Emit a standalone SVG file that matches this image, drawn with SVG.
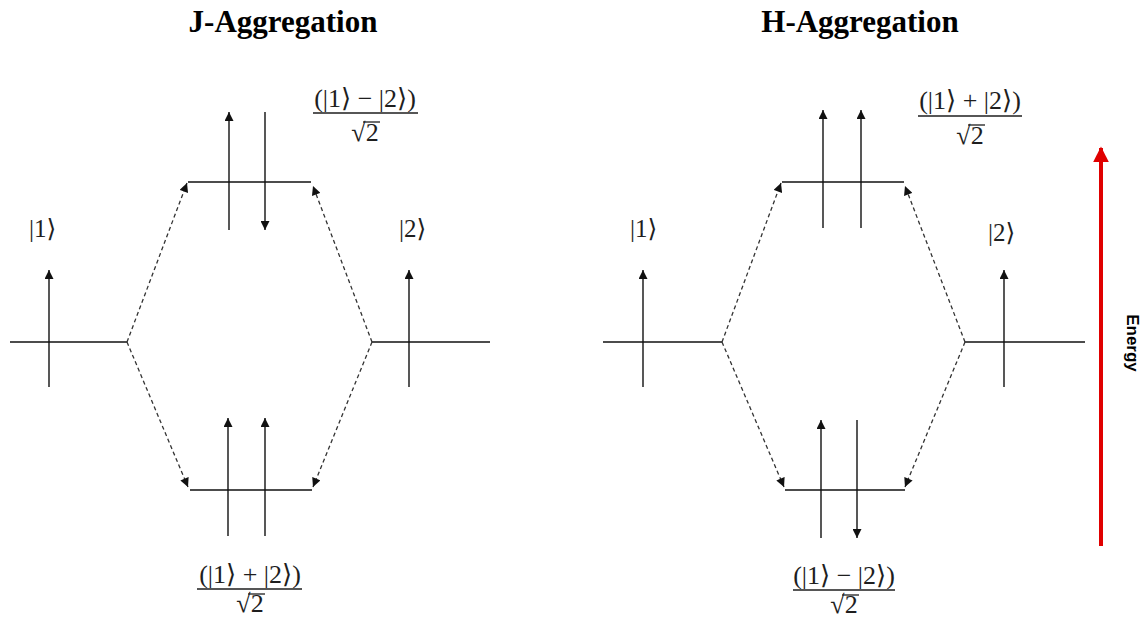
<svg xmlns="http://www.w3.org/2000/svg" width="1145" height="620" viewBox="0 0 1145 620">
<style>
.title{font-family:"Liberation Serif","Times New Roman",serif;font-weight:bold;font-size:31px;fill:#000;text-anchor:middle}
.ket{font-family:"Liberation Serif","DejaVu Serif",serif;font-size:25px;fill:#1e1e1e}
.frac{font-family:"Liberation Serif","DejaVu Serif",serif;font-size:26px;fill:#1e1e1e;text-anchor:middle}
.lvl{stroke:#111;stroke-width:1.4;fill:none}
.spin{stroke:#111;stroke-width:1.4;fill:none;marker-end:url(#ah)}
.dash{stroke:#333;stroke-width:1.3;stroke-dasharray:4 3;fill:none;marker-end:url(#ahd)}
.bar{stroke:#1e1e1e;stroke-width:1.3}
.energy{font-family:"Liberation Sans",Arial,sans-serif;font-weight:bold;font-size:17px;fill:#000;text-anchor:middle}
</style>
<defs>
<marker id="ah" viewBox="0 0 10 10" refX="10" refY="5" markerWidth="11" markerHeight="9" orient="auto" markerUnits="userSpaceOnUse"><path d="M0,0 L10,5 L0,10 z" fill="#111"/></marker>
<marker id="ahd" viewBox="0 0 10 10" refX="10" refY="5" markerWidth="10" markerHeight="9" orient="auto" markerUnits="userSpaceOnUse"><path d="M0,0 L10,5 L0,10 z" fill="#111"/></marker>
<marker id="ahr" viewBox="0 0 10 10" refX="9" refY="5" markerWidth="16" markerHeight="16" orient="auto" markerUnits="userSpaceOnUse"><path d="M0,0 L10,5 L0,10 z" fill="#e00000"/></marker>
</defs>
<rect width="1145" height="620" fill="#fff"/>

<text class="title" x="283" y="32">J-Aggregation</text>
<text class="title" x="860" y="32">H-Aggregation</text>

<!-- J-Aggregation -->
<g id="j-atom1">
<line class="lvl" x1="10" y1="342" x2="127" y2="342"/>
<line class="spin" x1="49" y1="387" x2="49" y2="270"/>
<text class="ket" x="29" y="237">|1⟩</text>
</g>
<g id="j-atom2">
<line class="lvl" x1="372" y1="342" x2="490" y2="342"/>
<line class="spin" x1="409" y1="387" x2="409" y2="270"/>
<text class="ket" x="399" y="237">|2⟩</text>
</g>
<g id="j-upper">
<line class="lvl" x1="188" y1="182" x2="311" y2="182"/>
<line class="spin" x1="229" y1="230" x2="229" y2="112"/>
<line class="spin" x1="265" y1="112" x2="265" y2="230"/>
<text class="frac" x="365" y="107">(|1⟩ − |2⟩)</text>
<line class="bar" x1="313" y1="113" x2="418" y2="113"/>
<text class="frac" x="365" y="141">√2</text>
<line class="bar" x1="363" y1="122" x2="380" y2="122"/>
</g>
<g id="j-lower">
<line class="lvl" x1="190" y1="490" x2="312" y2="490"/>
<line class="spin" x1="228" y1="536" x2="228" y2="418"/>
<line class="spin" x1="265" y1="536" x2="265" y2="418"/>
<text class="frac" x="250" y="583">(|1⟩ + |2⟩)</text>
<line class="bar" x1="197" y1="589" x2="302" y2="589"/>
<text class="frac" x="250" y="612">√2</text>
<line class="bar" x1="248" y1="594" x2="265" y2="594"/>
</g>

<!-- H-Aggregation -->
<g id="h-atom1">
<line class="lvl" x1="603" y1="342" x2="722" y2="342"/>
<line class="spin" x1="643" y1="387" x2="643" y2="270"/>
<text class="ket" x="630" y="237">|1⟩</text>
</g>
<g id="h-atom2">
<line class="lvl" x1="965" y1="342" x2="1085" y2="342"/>
<line class="spin" x1="1004" y1="387" x2="1004" y2="270"/>
<text class="ket" x="988" y="241">|2⟩</text>
</g>
<g id="h-upper">
<line class="lvl" x1="782" y1="182" x2="904" y2="182"/>
<line class="spin" x1="823" y1="228" x2="823" y2="110"/>
<line class="spin" x1="861" y1="228" x2="861" y2="110"/>
<text class="frac" x="970" y="109">(|1⟩ + |2⟩)</text>
<line class="bar" x1="918" y1="116" x2="1022" y2="116"/>
<text class="frac" x="970" y="144">√2</text>
<line class="bar" x1="968" y1="125" x2="985" y2="125"/>
</g>
<g id="h-lower">
<line class="lvl" x1="785" y1="490" x2="905" y2="490"/>
<line class="spin" x1="821" y1="538" x2="821" y2="420"/>
<line class="spin" x1="857" y1="420" x2="857" y2="538"/>
<text class="frac" x="844" y="584">(|1⟩ − |2⟩)</text>
<line class="bar" x1="793" y1="590" x2="895" y2="590"/>
<text class="frac" x="844" y="613">√2</text>
<line class="bar" x1="842" y1="595" x2="859" y2="595"/>
</g>

<g id="connectors">
<line class="dash" x1="127" y1="342" x2="187" y2="183"/>
<line class="dash" x1="372" y1="342" x2="313" y2="186"/>
<line class="dash" x1="127" y1="342" x2="188" y2="487"/>
<line class="dash" x1="372" y1="342" x2="313" y2="487"/>
<line class="dash" x1="722" y1="342" x2="781" y2="183"/>
<line class="dash" x1="965" y1="342" x2="905" y2="186"/>
<line class="dash" x1="722" y1="342" x2="784" y2="487"/>
<line class="dash" x1="965" y1="342" x2="905" y2="487"/>
</g>

<g id="energy-axis">
<line x1="1101" y1="546" x2="1101" y2="148" stroke="#e00000" stroke-width="4" marker-end="url(#ahr)"/>
<text class="energy" transform="translate(1127,343) rotate(90)">Energy</text>
</g>
</svg>
